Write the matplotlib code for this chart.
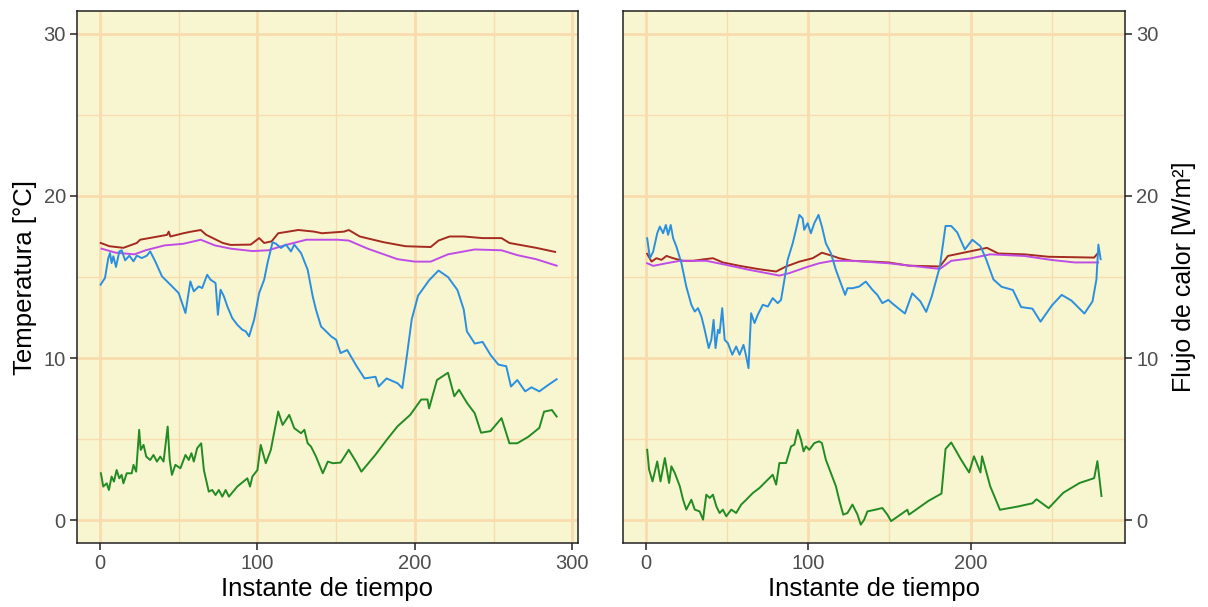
import numpy as np
import matplotlib.pyplot as plt

# left panel: temperatures
l_red_t = [0.5, 6, 14.9, 23.4, 25.5, 42.6, 43.7, 44.7, 53, 58, 64, 67.5, 78, 83, 95.7, 101.1, 104.3, 109, 113.2, 126, 136, 141, 155, 158, 165, 180, 194, 210, 215, 222, 231, 243, 255, 260, 277, 289]
l_red_v = [17.1, 16.9, 16.8, 17.1, 17.3, 17.6, 17.8, 17.5, 17.7, 17.8, 17.9, 17.6, 17.1, 16.98, 17.0, 17.4, 17.1, 17.2, 17.7, 17.9, 17.8, 17.7, 17.8, 17.9, 17.5, 17.15, 16.9, 16.85, 17.25, 17.5, 17.5, 17.4, 17.4, 17.1, 16.8, 16.55]

l_vio_t = [1, 10, 22, 29, 41, 53, 64, 73, 83, 97, 107, 117, 131, 151, 158, 170, 189, 200, 210, 221, 238, 255, 265, 277, 290]
l_vio_v = [16.75, 16.5, 16.4, 16.65, 16.95, 17.05, 17.3, 16.95, 16.75, 16.6, 16.65, 16.95, 17.3, 17.3, 17.25, 16.75, 16.1, 15.95, 15.95, 16.4, 16.7, 16.65, 16.35, 16.1, 15.7]

l_blue_t = [0.4, 3.2, 5.3, 6.4, 7.4, 8.5, 10.2, 12.3, 13.8, 16, 18.7, 21.3, 23.4, 26.6, 29.8, 31.9, 35.1, 39.4, 44.7, 50, 54.3, 57.4, 59.6, 62.8, 64.9, 68.1, 70.2, 73.4, 74.9, 76.6, 78.7, 80.9, 84, 87.2, 90.4, 92.6, 94.7, 97.9, 101.1, 104.3, 106.4, 109.6, 111.7, 114.9, 118.1, 121.3, 123.4, 127.7, 131.9, 135.1, 137.2, 140.4, 143.6, 146.8, 150, 152.8,
            157, 163, 168, 175, 177, 182, 189, 192, 194, 198, 202, 209, 215, 221, 227, 231, 233, 238, 243, 248, 253, 258, 261, 265, 270, 274, 279, 284, 290]
l_blue_v = [14.53, 14.94, 16.17, 16.48, 15.86, 16.28, 15.62, 16.58, 16.65, 16.03, 16.32, 15.97, 16.32, 16.17, 16.32, 16.58, 15.97, 15.04, 14.53, 14.01, 12.78, 14.73, 14.12, 14.42, 14.32, 15.14, 14.84, 14.63, 12.67, 14.22, 13.81, 13.19, 12.47, 12.06, 11.75, 11.65, 11.34, 12.37, 14.01, 14.84, 15.86, 17.14, 17.06, 16.79, 17.0, 16.58, 17.0, 16.48, 15.45, 13.81, 12.98, 11.95, 11.65, 11.34, 11.13, 10.31,
            10.5, 9.5, 8.75, 8.85, 8.25, 8.75, 8.45, 8.15, 9.5, 12.4, 13.85, 14.8, 15.4, 15.0, 14.2, 13.0, 11.65, 10.9, 11.0, 10.2, 9.6, 9.5, 8.25, 8.65, 7.95, 8.2, 7.95, 8.3, 8.7]

l_green_t = [0.6, 2.1, 4.3, 5.7, 7.4, 8.9, 10.6, 12.3, 13.8, 14.9, 17, 20.2, 21.3, 23, 24.9, 25.9, 27.7, 29.4, 31.9, 34, 36.2, 38.3, 40.4, 43, 44.3, 45.7, 47.9, 51.1, 54.3, 56.4, 58.1, 59.6, 61.7, 64.3, 66, 69.1, 71.3, 73.4, 75.5, 77.7, 79.8, 81.9, 87.2, 93.6, 95.3, 96.8, 100, 102.1, 105.3, 108.5, 113.2, 116, 120.2, 123.4, 127.7, 129.8, 131.9, 134, 137.2, 141.5, 144.7, 147.9, 152.8,
             158, 163, 166, 175, 182, 189, 197, 204, 208, 209, 214, 221, 225, 228, 233, 238, 242, 248, 255, 260, 265, 272, 279, 282, 287, 290]
l_green_v = [2.9, 2.08, 2.28, 1.87, 2.7, 2.39, 3.1, 2.59, 2.8, 2.28, 2.9, 2.9, 3.42, 3.0, 5.58, 4.34, 4.65, 3.93, 3.72, 4.03, 3.62, 3.93, 3.62, 5.78, 3.72, 2.8, 3.42, 3.21, 4.03, 3.72, 4.14, 3.62, 4.44, 4.75, 3.1, 1.77, 1.87, 1.56, 1.87, 1.46, 1.87, 1.46, 2.08, 2.59, 2.08, 2.7, 3.1, 4.65, 3.52, 4.34, 6.71, 5.88, 6.5, 5.68, 5.37, 5.58, 4.75, 4.55, 3.93, 2.9, 3.62, 3.52, 3.56,
             4.35, 3.55, 3.0, 4.05, 4.95, 5.8, 6.5, 7.45, 7.45, 6.9, 8.65, 9.1, 7.65, 8.05, 7.25, 6.6, 5.4, 5.5, 6.3, 4.75, 4.75, 5.15, 5.7, 6.7, 6.8, 6.4]

# right panel: heat flux
r_red_t = [0.8, 3.5, 6.5, 9.6, 12.7, 16.8, 22.9, 29, 36.2, 41.3, 47.4, 57.7, 69.9, 80.2, 86.3, 94.5, 102.7, 108.4, 115, 119, 127.2, 139.5, 149.3, 162, 181, 186, 198, 210, 217, 233, 248, 276, 278.5]
r_red_v = [16.43, 15.95, 16.16, 16.06, 16.3, 16.16, 16.0, 16.0, 16.1, 16.16, 15.9, 15.69, 15.48, 15.34, 15.65, 15.95, 16.16, 16.5, 16.3, 16.16, 16.0, 15.95, 15.9, 15.7, 15.65, 16.3, 16.55, 16.8, 16.45, 16.4, 16.25, 16.2, 16.5]

r_vio_t = [0.8, 4.5, 12.7, 20.9, 37.2, 49.5, 63.8, 78.1, 82.2, 88.3, 98.6, 106.7, 115, 127.2, 149.3, 181, 188, 200, 212, 233, 250, 264, 278.5]
r_vio_v = [15.85, 15.69, 15.85, 16.0, 16.0, 15.75, 15.44, 15.17, 15.09, 15.24, 15.6, 15.85, 16.0, 16.0, 15.85, 15.5, 16.0, 16.15, 16.4, 16.3, 16.05, 15.9, 15.9]

r_blue_t = [0.8, 2.5, 4.5, 7, 8.6, 10.6, 12.3, 13.7, 15.3, 16.8, 18.8, 21.9, 24.9, 28, 30.1, 32.1, 34.2, 36.2, 38.7, 40.3, 41.7, 42.9, 44.4, 45.4, 47, 48.5, 50.5, 53.2, 55.6, 57.7, 60.1, 61.8, 63.2, 64.8, 66.9, 68.9, 72, 75.1, 78.1, 81.2, 83.2, 85.3, 87.3, 90.4, 92.4, 94.5, 96.5, 97.5, 99.6, 101.6, 103.7, 106.3, 108.4, 110.8, 113.9, 117, 120, 122.7, 124.1, 127.2, 131.3, 135.4, 139.5, 142.5, 145.6, 149.3,
            152, 159.5, 164, 169, 172.6, 176, 181, 184.5, 188, 191.7, 196.4, 201, 206, 209.5, 214, 219, 226, 231, 238, 243, 250, 256, 262, 270, 275, 277.4, 278.6, 280]
r_blue_v = [17.39, 16.16, 16.57, 17.7, 18.11, 17.7, 18.21, 17.6, 18.21, 17.39, 16.88, 15.85, 14.41, 13.29, 12.87, 13.08, 12.57, 11.75, 10.62, 11.13, 12.36, 10.62, 11.75, 11.54, 13.08, 11.13, 10.92, 10.21, 10.72, 10.21, 10.82, 10.1, 9.38, 12.77, 12.16, 12.67, 13.29, 13.18, 13.7, 13.39, 13.59, 14.83, 16.06, 17.08, 17.91, 18.83, 18.62, 17.91, 18.32, 17.7, 18.32, 18.83, 18.11, 17.08, 16.47, 15.44, 14.62, 13.9, 14.31, 14.31, 14.41, 14.72, 14.21, 13.9, 13.39, 13.59,
            13.35, 12.75, 14.0, 13.5, 12.85, 13.8, 15.65, 18.15, 18.15, 17.75, 16.7, 17.3, 16.9, 16.1, 14.85, 14.4, 14.2, 13.15, 13.05, 12.25, 13.25, 13.9, 13.55, 12.75, 13.5, 14.85, 17.0, 16.1]

r_green_t = [0.8, 2, 4.1, 7, 9, 11.7, 14.3, 15.7, 17.8, 20.9, 22.9, 24.9, 28, 30.1, 33.1, 35.2, 37.2, 39.3, 41.3, 43.4, 45.4, 47.4, 49.5, 52.6, 55.6, 58.7, 61.8, 65.8, 69.9, 74, 78.1, 80.2, 82.2, 86.3, 89.4, 91.4, 93.5, 95.5, 97.1, 98.6, 100.6, 103.7, 106.7, 108.4, 110.8, 113.9, 117, 119, 121.5, 124.1, 127.2, 130.3, 132.3, 134.4, 136.4, 141.5, 145.6, 148.7,
             151, 161, 162, 174, 182, 184.5, 188, 194, 199, 202, 206, 207, 212, 218, 229, 238, 240.5, 248, 257, 267, 276, 278, 280.5]
r_green_v = [4.35, 3.12, 2.4, 3.63, 2.4, 3.84, 2.3, 3.33, 2.92, 2.1, 1.27, 0.66, 1.27, 0.66, 0.55, 0.04, 1.58, 1.38, 1.58, 0.86, 0.45, 0.66, 0.25, 0.66, 0.45, 0.97, 1.27, 1.68, 1.99, 2.4, 2.81, 2.2, 3.53, 3.53, 4.56, 4.66, 5.58, 4.97, 4.25, 4.56, 4.35, 4.76, 4.87, 4.76, 3.74, 2.92, 2.1, 1.27, 0.35, 0.45, 0.97, 0.35, -0.27, 0.04, 0.55, 0.66, 0.76, 0.35,
             -0.05, 0.65, 0.35, 1.2, 1.65, 4.4, 4.8, 3.75, 2.95, 3.95, 2.95, 3.95, 2.1, 0.65, 0.85, 1.05, 1.3, 0.75, 1.7, 2.3, 2.6, 3.65, 1.5]

colors = {'red': '#A52A1F', 'vio': '#C04CE8', 'blue': '#2B8FE0', 'green': '#238B23'}
bg = '#F8F6D0'
grid_c = '#F9DCAE'
txt_c = '#4D4D4D'

plt.rcParams['font.family'] = ['Liberation Sans', 'DejaVu Sans']

fig = plt.figure(figsize=(12.08, 6.07), dpi=100)
ax1 = fig.add_axes([0.0637, 0.1054, 0.4147, 0.8764])
ax2 = fig.add_axes([0.5157, 0.1054, 0.4156, 0.8764])

panels = [
    (ax1, [(l_red_t, l_red_v, 'red'), (l_vio_t, l_vio_v, 'vio'),
           (l_blue_t, l_blue_v, 'blue'), (l_green_t, l_green_v, 'green')], (-14.6, 303.5)),
    (ax2, [(r_red_t, r_red_v, 'red'), (r_vio_t, r_vio_v, 'vio'),
           (r_blue_t, r_blue_v, 'blue'), (r_green_t, r_green_v, 'green')], (-14.1, 295)),
]

for ax, series, xl in panels:
    ax.set_facecolor(bg)
    for t, v, c in series:
        ax.plot(t, v, color=colors[c], lw=1.4, zorder=3)
    ax.set_xlim(*xl)
    ax.set_ylim(-1.4, 31.4)
    ax.set_xticks([0, 100, 200, 300] if ax is ax1 else [0, 100, 200])
    ax.set_xticks([50, 150, 250], minor=True)
    ax.set_yticks([0, 10, 20, 30])
    ax.set_yticks([5, 15, 25], minor=True)
    ax.grid(True, which='major', color=grid_c, lw=2.0, zorder=0)
    ax.grid(True, which='minor', color=grid_c, lw=1.0, zorder=0)
    ax.set_axisbelow(True)
    ax.tick_params(which='major', length=5, width=1.2, color='#333333',
                   labelsize=14.5, labelcolor=txt_c, pad=3)
    ax.tick_params(which='minor', length=0)
    for s in ax.spines.values():
        s.set_color('#222222')
        s.set_linewidth(1.1)
    ax.set_xlabel('Instante de tiempo', fontsize=18.5, color='black', labelpad=3)

ax1.set_ylabel('Temperatura [°C]', fontsize=18.5, color='black', labelpad=5)
ax2.yaxis.tick_right()
ax2.yaxis.set_label_position('right')
ax2.set_ylabel('Flujo de calor [W/m²]', fontsize=18, color='black', labelpad=10)

fig.savefig('out.png', dpi=100)
